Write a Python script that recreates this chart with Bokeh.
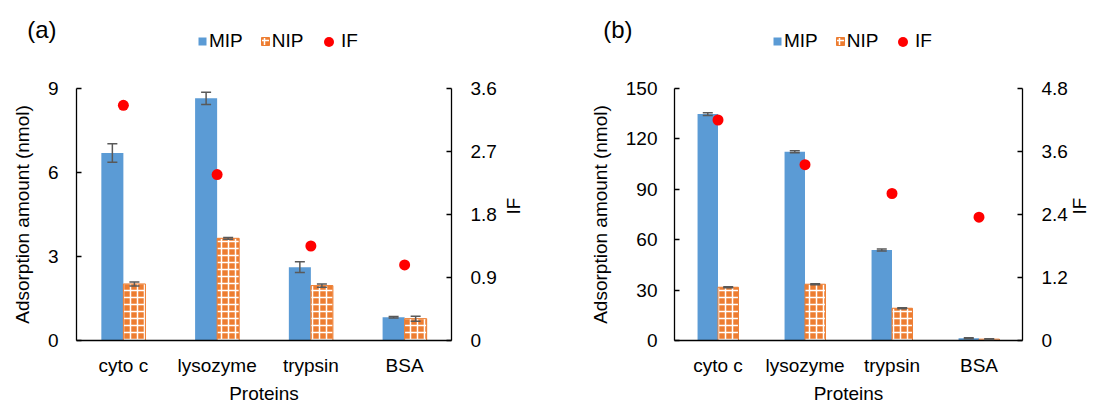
import math
from bokeh.plotting import figure
from bokeh.models import (Range1d, FactorRange, LinearAxis, FixedTicker, PrintfTickFormatter,
                          Whisker, TeeHead, ColumnDataSource, Legend, LegendItem)
from bokeh.transform import dodge
from bokeh.layouts import row, column
from bokeh.embed import file_html
from bokeh.resources import INLINE

# ---------------- data ----------------
proteins = ["cyto c", "lysozyme", "trypsin", "BSA"]

a_mip = [6.70, 8.65, 2.62, 0.83]
a_mip_err = [0.33, 0.22, 0.19, 0.03]
a_nip = [2.02, 3.65, 1.96, 0.78]
a_nip_err = [0.07, 0.03, 0.06, 0.09]
a_if = [3.36, 2.37, 1.35, 1.08]
a_left_ticks = [0, 3, 6, 9]
a_right_ticks = [0, 0.9, 1.8, 2.7, 3.6]

b_mip = [134.8, 112.4, 53.9, 1.4]
b_mip_err = [0.8, 0.6, 0.6, 0.3]
b_nip = [31.7, 33.5, 19.2, 0.8]
b_nip_err = [0.3, 0.3, 0.3, 0.2]
b_if = [4.20, 3.35, 2.80, 2.35]
b_left_ticks = [0, 30, 60, 90, 120, 150]
b_right_ticks = [0, 1.2, 2.4, 3.6, 4.8]

series_names = ["MIP", "NIP", "IF"]
y_title = "Adsorption amount (nmol)"
x_title = "Proteins"
if_title = "IF"

FONT = "Liberation Sans"
FS = "19px"
BLUE = "#5B9BD5"
ORANGE = "#ED7D31"
RED = "#FF0000"
ERR = "#595959"
BW = 0.235
HEAD_H = 76
HEAD_BOTTOM = 18
TOTAL_H = 406

MIP_STYLE = dict(fill_color=BLUE, line_color=None)
NIP_STYLE = dict(fill_color=ORANGE, line_color=ORANGE, line_width=1, hatch_pattern="+",
                 hatch_color="white", hatch_scale=7, hatch_weight=1.5)
IF_STYLE = dict(size=11, fill_color=RED, line_color=None)


def header(tag, width, bl, br, tag_stand, leg_x, leg_if_x, mip, nip, iff):
    h = figure(width=width, height=HEAD_H, x_range=Range1d(0, 1), y_range=Range1d(0, 1),
               x_axis_type=None, min_border_left=bl, min_border_right=br,
               min_border_top=0, min_border_bottom=HEAD_BOTTOM,
               output_backend="svg", toolbar_location=None)
    h.outline_line_color = None
    h.grid.visible = False
    ax = h.yaxis[0]
    ax.ticker = FixedTicker(ticks=[], minor_ticks=[])
    ax.axis_line_color = None
    ax.major_tick_line_color = None
    ax.minor_tick_line_color = None
    ax.major_tick_out = 0
    ax.major_label_text_font_size = "0px"
    ax.axis_label = tag
    ax.axis_label_standoff = tag_stand
    ax.axis_label_orientation = "horizontal"
    ax.axis_label_text_font = FONT
    ax.axis_label_text_font_size = "24px"
    ax.axis_label_text_font_style = "normal"
    ax.axis_label_text_color = "black"

    # invisible stand-ins that only lend their style to the legend
    idx = list(range(len(proteins)))
    r_mip = h.vbar(x=idx, top=mip, width=BW, visible=False, **MIP_STYLE)
    r_nip = h.vbar(x=idx, top=nip, width=BW, visible=False, **NIP_STYLE)
    r_if = h.scatter(x=idx, y=iff, visible=False, **IF_STYLE)

    fh = HEAD_H - HEAD_BOTTOM
    common = dict(orientation="horizontal", padding=0, margin=0, border_line_color=None,
                  background_fill_alpha=0, label_text_font=FONT,
                  label_text_font_size=FS, label_text_color="black")
    leg1 = Legend(items=[LegendItem(label=series_names[0], renderers=[r_mip]),
                         LegendItem(label=series_names[1], renderers=[r_nip])],
                  location=(leg_x - bl, fh - 52), glyph_width=10, glyph_height=10,
                  label_standoff=2, spacing=17, **common)
    leg2 = Legend(items=[LegendItem(label=series_names[2], renderers=[r_if])],
                  location=(leg_if_x - bl, fh - 53.5), glyph_width=25, glyph_height=25,
                  label_standoff=-6, **common)
    h.add_layout(leg1)
    h.add_layout(leg2)
    return h


def panel(mip, mip_err, nip, nip_err, iff, lticks, rticks, width, bl, br,
          lstand, rstand, rlabstand):
    src = ColumnDataSource(dict(
        p=proteins, mip=mip, nip=nip, iff=iff,
        mip_hi=[v + e for v, e in zip(mip, mip_err)],
        mip_lo=[v - e for v, e in zip(mip, mip_err)],
        nip_hi=[v + e for v, e in zip(nip, nip_err)],
        nip_lo=[v - e for v, e in zip(nip, nip_err)],
    ))
    p = figure(x_range=FactorRange(*proteins), y_range=Range1d(0, lticks[-1]),
               width=width, height=TOTAL_H - HEAD_H, output_backend="svg",
               toolbar_location=None, min_border_left=bl, min_border_right=br,
               min_border_top=12, min_border_bottom=66)
    p.outline_line_color = None
    p.grid.visible = False
    p.extra_y_ranges = {"if": Range1d(0, rticks[-1])}

    p.vbar(x=dodge("p", -BW / 2, range=p.x_range), top="mip", width=BW,
           source=src, **MIP_STYLE)
    p.vbar(x=dodge("p", BW / 2, range=p.x_range), top="nip", width=BW,
           source=src, **NIP_STYLE)
    for off, hi, lo in [(-BW / 2, "mip_hi", "mip_lo"), (BW / 2, "nip_hi", "nip_lo")]:
        w = Whisker(source=src, base=dodge("p", off, range=p.x_range), upper=hi, lower=lo,
                    line_color=ERR, line_width=1.5, level="overlay",
                    upper_head=TeeHead(size=10, line_color=ERR, line_width=1.5),
                    lower_head=TeeHead(size=10, line_color=ERR, line_width=1.5))
        p.add_layout(w)
    p.scatter(x="p", y="iff", source=src, y_range_name="if", **IF_STYLE)

    ya = p.yaxis[0]
    ya.ticker = FixedTicker(ticks=lticks)
    ya.axis_label = y_title
    ya.axis_label_standoff = 12
    ya.major_label_standoff = lstand
    ra = LinearAxis(y_range_name="if", ticker=FixedTicker(ticks=rticks),
                    formatter=PrintfTickFormatter(format="%g"))
    ra.axis_label = if_title
    ra.axis_label_standoff = rlabstand
    ra.major_label_standoff = rstand
    ra.axis_label_orientation = math.pi / 2
    p.add_layout(ra, "right")
    for ax in (ya, ra):
        ax.major_tick_in = 5
        ax.major_tick_out = 0
        ax.minor_tick_in = 0
        ax.minor_tick_out = 0
    xa = p.xaxis[0]
    xa.major_tick_in = 0
    xa.major_tick_out = 0
    xa.major_label_standoff = 14
    xa.axis_label = x_title
    xa.axis_label_standoff = 4
    for ax in (ya, ra, xa):
        ax.axis_line_color = "black"
        ax.axis_line_width = 1.3
        ax.major_tick_line_color = "black"
        ax.major_tick_line_width = 1.3
        ax.major_label_text_font = FONT
        ax.major_label_text_font_size = FS
        ax.major_label_text_color = "black"
        ax.axis_label_text_font = FONT
        ax.axis_label_text_font_size = FS
        ax.axis_label_text_font_style = "normal"
        ax.axis_label_text_color = "black"
    return p


WA, WB = 560, 543
ha = header("(a)", WA, 76, 109, 20, 197, 316, a_mip, a_nip, a_if)
pa = panel(a_mip, a_mip_err, a_nip, a_nip_err, a_if, a_left_ticks, a_right_ticks,
           WA, 76, 109, 18, 19, 14)
hb = header("(b)", WB, 114, 76, 42, 772 - WA, 890 - WA, b_mip, b_nip, b_if)
pb = panel(b_mip, b_mip_err, b_nip, b_nip_err, b_if, b_left_ticks, b_right_ticks,
           WB, 114, 76, 17, 19, 9)

layout = row(column(ha, pa), column(hb, pb))
open("out.html", "w").write(file_html(layout, INLINE))
